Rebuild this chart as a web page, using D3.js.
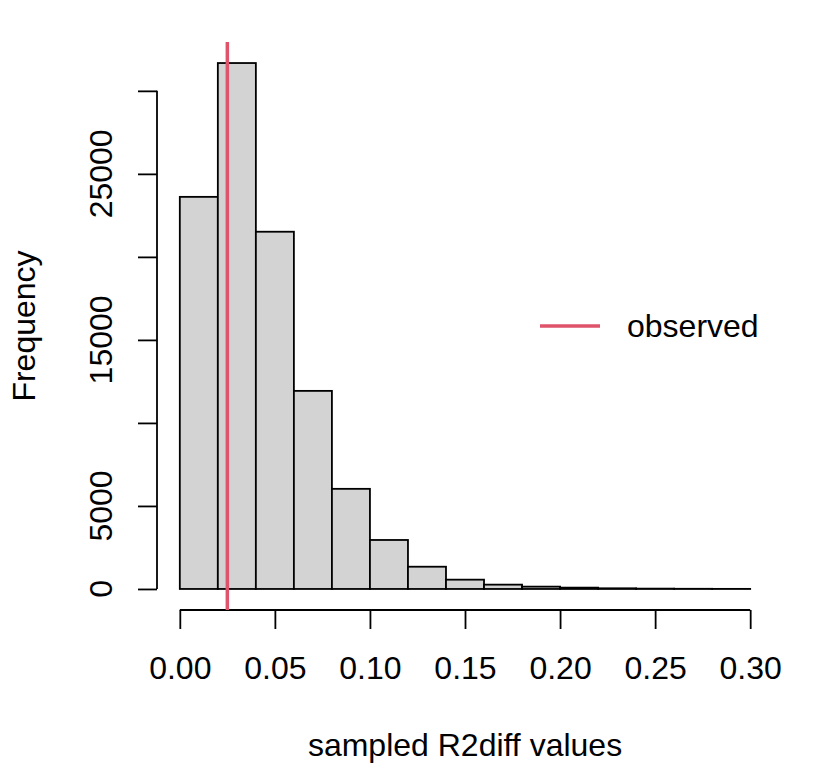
<!DOCTYPE html>
<html>
<head>
<meta charset="utf-8">
<script src="https://cdn.jsdelivr.net/npm/d3@7"></script>
<style>
  body { margin: 0; background: #fff; }
  text { font-family: "Liberation Sans", Arial, Helvetica, sans-serif; font-size: 32px; fill: #000; }
</style>
</head>
<body>
<svg id="chart" width="816" height="768"></svg>
<script>
// histogram of sampled R2diff values, bins of 0.02
var binStarts = [0.00, 0.02, 0.04, 0.06, 0.08, 0.10, 0.12, 0.14, 0.16, 0.18, 0.20, 0.22, 0.24, 0.26, 0.28];
var binWidth = 0.02;
var counts = [23615, 31675, 21515, 11930, 6030, 2950, 1340, 560, 260, 140, 80, 40, 20, 10, 5];

var observed = 0.025;

var xTicks = [0, 0.05, 0.10, 0.15, 0.20, 0.25, 0.30];
var yTicks = [0, 5000, 10000, 15000, 20000, 25000, 30000];
var yLabels = [0, 5000, 15000, 25000]; // R drops the ones that would overlap

var plot = {left: 157, right: 773, top: 42, bottom: 610};
var lw = 1.8;

var svg = d3.select('#chart');

// R style: 4% padding on each side of the data range
var xMin = 0, xMax = 0.30;
var xPad = (xMax - xMin) * 0.04;
var x = d3.scaleLinear()
	.domain([xMin - xPad, xMax + xPad])
	.range([plot.left, plot.right]);

var yMax = d3.max(counts);
var y = d3.scaleLinear()
	.domain([-yMax * 0.04, yMax * 1.04])
	.range([plot.bottom, plot.top]);

// bars
svg.append('g').selectAll('rect')
	.data(counts)
	.enter().append('rect')
	.attr('x', function(d, i){ return x(binStarts[i]); })
	.attr('y', function(d){ return y(d); })
	.attr('width', function(d, i){ return x(binStarts[i] + binWidth) - x(binStarts[i]); })
	.attr('height', function(d){ return y(0) - y(d); })
	.attr('fill', '#d3d3d3')
	.attr('stroke', '#000')
	.attr('stroke-width', lw);

// x axis
var xAxis = svg.append('g')
	.attr('transform', 'translate(0,' + plot.bottom + ')')
	.call(d3.axisBottom(x).tickValues(xTicks).tickSize(19).tickSizeOuter(0)
		.tickPadding(27).tickFormat(d3.format('.2f')));
xAxis.select('.domain').remove();
xAxis.selectAll('.tick line').attr('stroke', '#000').attr('stroke-width', lw);
xAxis.selectAll('.tick text').attr('font-size', null).attr('font-family', null);
xAxis.append('line')
	.attr('x1', x(xTicks[0])).attr('x2', x(xTicks[xTicks.length - 1]))
	.attr('stroke', '#000').attr('stroke-width', lw);

// y axis
var yAxis = svg.append('g')
	.attr('transform', 'translate(' + plot.left + ',0)')
	.call(d3.axisLeft(y).tickValues(yTicks).tickSize(19).tickSizeOuter(0).tickFormat(''));
yAxis.select('.domain').remove();
yAxis.selectAll('.tick line').attr('stroke', '#000').attr('stroke-width', lw);
yAxis.append('line')
	.attr('y1', y(yTicks[0])).attr('y2', y(yTicks[yTicks.length - 1]))
	.attr('stroke', '#000').attr('stroke-width', lw);

svg.append('g').selectAll('text')
	.data(yLabels)
	.enter().append('text')
	.attr('text-anchor', 'middle')
	.attr('transform', function(d){ return 'translate(112,' + y(d) + ') rotate(-90)'; })
	.text(function(d){ return d; });

// axis titles
svg.append('text')
	.attr('x', (plot.left + plot.right) / 2)
	.attr('y', 756)
	.attr('text-anchor', 'middle')
	.text('sampled R2diff values');

svg.append('text')
	.attr('text-anchor', 'middle')
	.attr('transform', 'translate(35,' + (plot.top + plot.bottom) / 2 + ') rotate(-90)')
	.text('Frequency');

// observed value
svg.append('line')
	.attr('x1', x(observed)).attr('x2', x(observed))
	.attr('y1', plot.top).attr('y2', plot.bottom)
	.attr('stroke', '#DF536B')
	.attr('stroke-width', 3.5);

// legend (no box)
var legend = svg.append('g').attr('transform', 'translate(540,326)');
legend.append('line')
	.attr('x1', 0).attr('x2', 60)
	.attr('stroke', '#DF536B').attr('stroke-width', 3.5);
legend.append('text')
	.attr('x', 87).attr('y', 11)
	.text('observed');
</script>
</body>
</html>
